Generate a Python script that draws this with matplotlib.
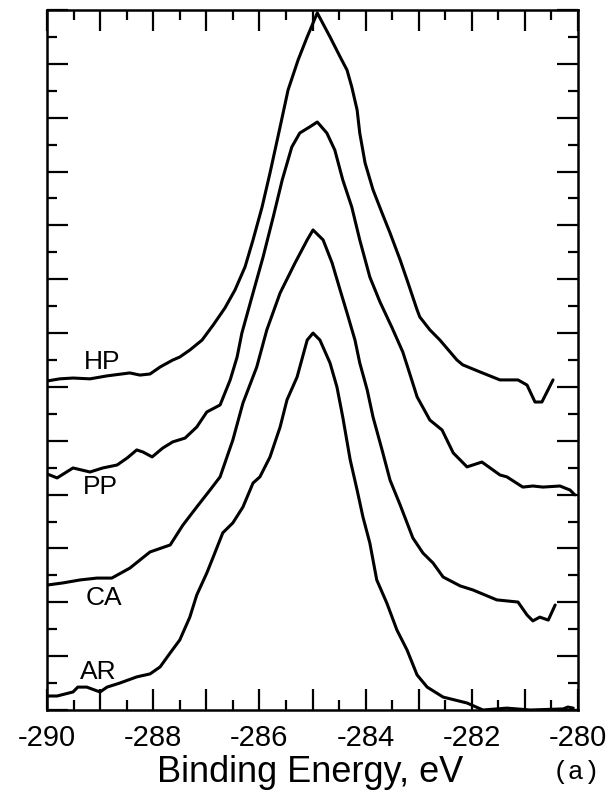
import numpy as np
import matplotlib
matplotlib.use('Agg')
import matplotlib.pyplot as plt
from matplotlib.ticker import MultipleLocator

plt.rcParams['font.family'] = ['Liberation Sans', 'DejaVu Sans']
plt.rcParams['axes.unicode_minus'] = False

# C 1s spectra, stacked (binding energy in eV, intensity in arbitrary units)
hp_e = [-290.00, -289.76, -289.51, -289.19, -288.87, -288.44, -288.25, -288.06, -287.87, -287.63,
        -287.50, -287.31, -287.08, -286.87, -286.65, -286.46, -286.27, -286.12, -285.95, -285.80,
        -285.61, -285.46, -285.27, -285.10, -284.91, -284.67, -284.48, -284.35, -284.26, -284.16,
        -284.11, -284.01, -283.86, -283.69, -283.54, -283.35, -283.20, -283.03, -282.98, -282.79,
        -282.60, -282.28, -282.17, -281.85, -281.47, -281.13, -280.96, -280.81, -280.68, -280.47]
hp_i = [12.22, 12.30, 12.33, 12.30, 12.41, 12.52, 12.44, 12.48, 12.74, 13.00,
        13.11, 13.37, 13.74, 14.30, 14.93, 15.60, 16.46, 17.46, 18.68, 19.95,
        21.66, 23.03, 24.15, 25.00, 25.89, 25.00, 24.26, 23.77, 23.14, 22.29,
        21.43, 20.32, 19.32, 18.46, 17.72, 16.72, 15.86, 14.86, 14.60, 14.12,
        13.74, 13.00, 12.82, 12.56, 12.26, 12.26, 12.07, 11.44, 11.44, 12.26]

pp_e = [-290.00, -289.81, -289.51, -289.19, -288.95, -288.68, -288.49, -288.31, -288.19, -288.02,
        -287.82, -287.63, -287.40, -287.18, -286.99, -286.74, -286.55, -286.42, -286.33, -286.12,
        -285.93, -285.74, -285.57, -285.39, -285.24, -285.05, -284.91, -284.73, -284.58, -284.43,
        -284.26, -284.11, -283.92, -283.73, -283.50, -283.30, -283.16, -283.03, -282.79, -282.56,
        -282.35, -282.09, -281.81, -281.47, -281.34, -281.04, -280.85, -280.66, -280.34, -280.15,
        -280.06]
pp_i = [8.77, 8.62, 8.99, 8.84, 8.99, 9.10, 9.36, 9.66, 9.58, 9.40,
        9.73, 9.96, 10.10, 10.51, 11.07, 11.33, 12.26, 13.11, 14.00, 15.49,
        16.83, 18.31, 19.69, 20.91, 21.43, 21.66, 21.84, 21.43, 20.80, 19.69,
        18.68, 17.46, 16.08, 15.16, 14.19, 13.30, 12.44, 11.63, 10.77, 10.40,
        9.55, 9.03, 9.21, 8.73, 8.66, 8.28, 8.32, 8.28, 8.32, 8.17,
        7.99]

ca_e = [-290.00, -289.70, -289.38, -289.06, -288.78, -288.44, -288.06, -287.68, -287.44, -287.18,
        -286.93, -286.74, -286.50, -286.31, -286.05, -285.86, -285.61, -285.33, -285.10, -284.99,
        -284.80, -284.63, -284.48, -284.35, -284.20, -284.11, -283.97, -283.86, -283.69, -283.54,
        -283.35, -283.11, -282.92, -282.73, -282.54, -282.22, -281.98, -281.53, -281.13, -280.96,
        -280.85, -280.72, -280.56, -280.43]
ca_i = [4.64, 4.72, 4.83, 4.90, 4.90, 5.27, 5.87, 6.13, 6.87, 7.54,
        8.17, 8.66, 10.03, 11.40, 12.74, 14.12, 15.49, 16.60, 17.46, 17.83,
        17.46, 16.60, 15.60, 14.75, 13.74, 12.89, 11.89, 10.88, 9.66, 8.54,
        7.62, 6.39, 5.83, 5.46, 4.94, 4.61, 4.46, 4.09, 4.01, 3.53,
        3.31, 3.45, 3.34, 3.90]

ar_e = [-290.00, -289.81, -289.51, -289.42, -289.25, -289.10, -289.00, -288.87, -288.63, -288.31,
        -288.06, -287.87, -287.68, -287.50, -287.31, -287.18, -286.99, -286.87, -286.69, -286.50,
        -286.31, -286.12, -285.99, -285.80, -285.61, -285.48, -285.29, -285.10, -284.99, -284.86,
        -284.67, -284.54, -284.43, -284.29, -284.16, -284.05, -283.92, -283.79, -283.60, -283.41,
        -283.22, -283.03, -282.84, -282.54, -282.09, -281.79, -281.34, -280.90, -280.28, -280.19,
        -280.09]
ar_i = [0.52, 0.52, 0.67, 0.85, 0.85, 0.74, 0.67, 0.85, 1.00, 1.23,
        1.34, 1.60, 2.12, 2.60, 3.45, 4.27, 5.09, 5.68, 6.58, 6.95,
        7.54, 8.43, 8.66, 9.40, 10.51, 11.52, 12.37, 13.74, 14.00, 13.74,
        12.89, 12.00, 10.88, 9.29, 8.17, 7.17, 6.20, 4.83, 3.97, 2.97,
        2.23, 1.30, 0.85, 0.48, 0.26, 0.00, 0.07, 0.00, 0.04, 0.11,
        0.07]

names = ['HP', 'PP', 'CA', 'AR']
label_pos = [(-288.96, 12.93), (-289.0, 8.28), (-288.93, 4.16), (-289.04, 1.41)]

fig = plt.figure(figsize=(6.12, 7.94), dpi=100)
ax = fig.add_axes([47/612, 84/794, 531/612, 700/794])

for e, i in [(hp_e, hp_i), (pp_e, pp_i), (ca_e, ca_i), (ar_e, ar_i)]:
    ax.plot(e, i, color='black', lw=2.2, solid_joinstyle='round', solid_capstyle='round')

for n, (x, y) in zip(names, label_pos):
    ax.text(x, y, n, fontsize=19, ha='center', va='center')

ax.set_xlim(-290, -280)
ax.set_ylim(0, 26)
ticks = list(range(-290, -279))
ax.set_xticks(ticks)
ax.set_xticklabels([str(t) if t % 2 == 0 else '' for t in ticks])
ax.xaxis.set_minor_locator(MultipleLocator(0.5))
ax.yaxis.set_major_locator(MultipleLocator(2))
ax.yaxis.set_minor_locator(MultipleLocator(1))
ax.tick_params(which='both', direction='in', top=True, right=True, width=1.6)
ax.tick_params(which='major', length=15)
ax.tick_params(which='minor', length=7.5)
ax.tick_params(axis='y', labelleft=False)
ax.tick_params(axis='x', labelsize=21, pad=10)
for s in ax.spines.values():
    s.set_linewidth(1.8)

fig.text(310/612, 1 - 773/794, 'Binding Energy, eV', fontsize=26, ha='center', va='center')
fig.text(576/612, 1 - 772/794, '(a)', fontsize=19, family='Liberation Mono', ha='center', va='center')

fig.savefig('out.png', dpi=100)
